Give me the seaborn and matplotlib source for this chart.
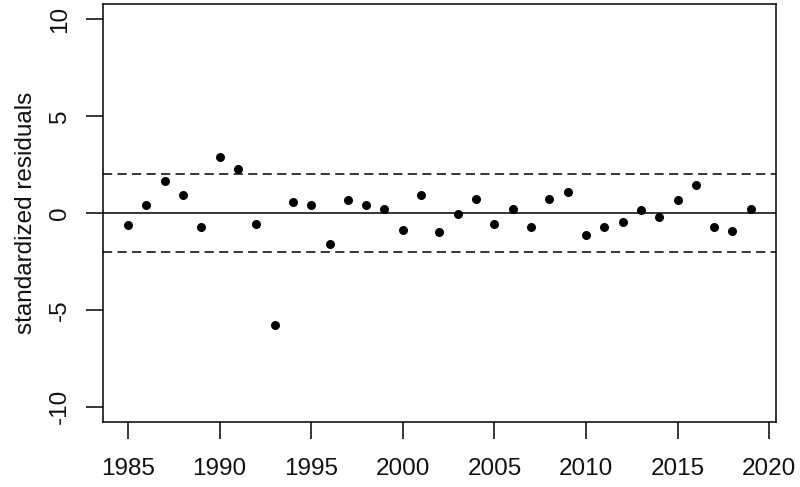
import matplotlib
matplotlib.use("Agg")
import matplotlib.pyplot as plt
import seaborn as sns
import pandas as pd

years = list(range(1985, 2020))
residuals = [-0.63, 0.40, 1.68, 0.91, -0.72, 2.88, 2.29, -0.55, -5.78, 0.57,
             0.40, -1.58, 0.65, 0.40, 0.23, -0.89, 0.91, -0.98, -0.03, 0.74,
             -0.55, 0.23, -0.72, 0.74, 1.08, -1.15, -0.72, -0.46, 0.14, -0.21,
             0.65, 1.43, -0.72, -0.94, 0.23]
x_ticks = [1985, 1990, 1995, 2000, 2005, 2010, 2015, 2020]
y_ticks = [-10, -5, 0, 5, 10]
ref_lines = [-2, 2]

sns.set_theme(style="white")
plt.rcParams['font.family'] = ['Liberation Sans', 'DejaVu Sans']

df = pd.DataFrame({"year": years, "res": residuals})

fig = plt.figure(figsize=(8, 4.87), dpi=100)
ax = fig.add_axes([0.129, 0.133, 0.8406, 0.8589])

sns.scatterplot(data=df, x="year", y="res", ax=ax, color="black",
                s=42, edgecolor="black", linewidth=0, zorder=3)

ax.axhline(0, color="black", lw=1.1, zorder=2)
for r in ref_lines:
    ax.axhline(r, color="black", lw=1.1, linestyle=(0, (6, 3.5)), zorder=2)

ax.set_xlim(1983.64, 2020.36)
ax.set_ylim(-10.8, 10.8)
ax.set_xticks(x_ticks)
ax.set_yticks(y_ticks)
ax.set_yticklabels([str(v) for v in y_ticks], rotation=90, va="center")
ax.set_xlabel("")
ax.set_ylabel("standardized residuals", fontsize=17.5, color="#111111", labelpad=9)

for side in ax.spines.values():
    side.set_color("black")
    side.set_linewidth(1.1)

ax.tick_params(axis="both", which="both", direction="out", length=12, width=1.1,
               color="black", labelsize=17.5, labelcolor="#111111")
ax.tick_params(axis="x", pad=14, bottom=True)
ax.tick_params(axis="y", pad=11, left=True)

fig.savefig("out.png", dpi=100, facecolor="white")
